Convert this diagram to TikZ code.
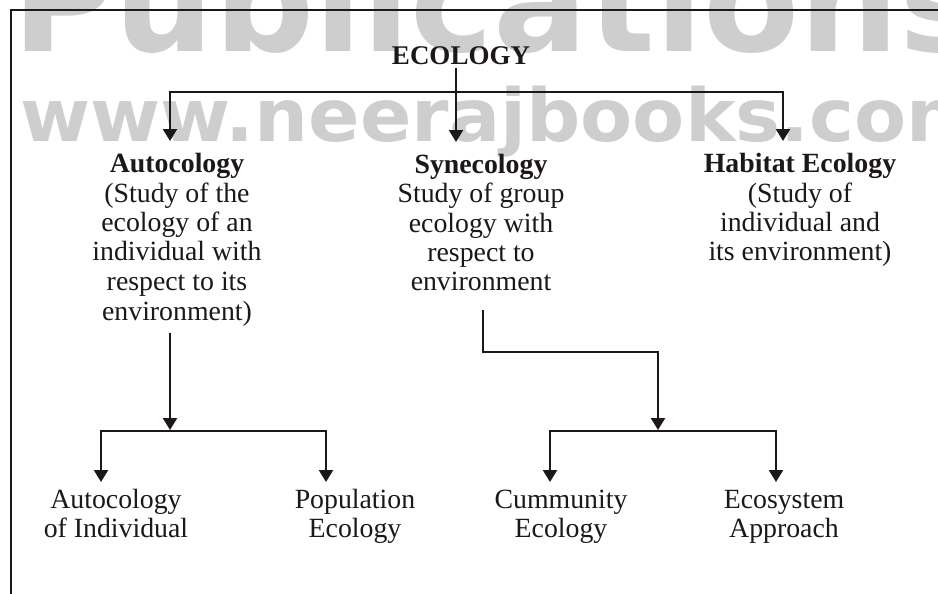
\documentclass[tikz,border=0pt]{standalone}
\usepackage{fontspec}
\setmainfont{Liberation Serif}
\newfontfamily\wmfont{DejaVu Sans}
\usetikzlibrary{arrows.meta}
\definecolor{wm}{RGB}{206,206,206}
\definecolor{ink}{RGB}{28,24,24}
\newcommand\blocktext[1]{\begin{tabular}[t]{@{}c@{}}#1\end{tabular}}
\begin{document}
\begin{tikzpicture}[x=1pt,y=-1pt,
  txt/.style={inner sep=0pt, anchor=base, text=ink, font=\fontsize{27.8}{29.5}\selectfont},
  line/.style={draw=ink, line width=2.3pt},
  arr/.style={line, -{Triangle[width=14pt,length=12pt]}},
  wmark/.style={inner sep=0pt, anchor=base west, text=wm}]
\useasboundingbox (0,0) rectangle (938,594);
\fill[white] (0,0) rectangle (938,594);
% watermark
\begin{scope}
\clip (0,0) rectangle (938,594);
\node[wmark, font=\wmfont\bfseries\fontsize{140}{140}\selectfont] (wmA) at (12,52) {Publications};
\node[wmark, font=\wmfont\bfseries\fontsize{73}{73}\selectfont, xscale=1.04] (wmB) at (20,142) {www.neerajbooks.com};
\end{scope}
% frame
\coordinate (frTR) at (938,10);
\coordinate (frTL) at (11,10);
\coordinate (frBL) at (11,594);
\draw[line] (frTR) -- (frTL) -- (frBL);
% texts
\node[txt, font=\fontsize{27}{29}\selectfont\bfseries] (eco) at (461,65) {ECOLOGY};
\node[txt] (auto) at (177,172.5) {\blocktext{\textbf{Autocology}\\(Study of the\\ecology of an\\individual with\\respect to its\\environment)}};
\node[txt] (syn) at (481,173) {\blocktext{\textbf{Synecology}\\Study of group\\ecology with\\respect to\\environment}};
\node[txt] (hab) at (800,172.5) {\blocktext{\textbf{Habitat Ecology}\\(Study of\\individual and\\its environment)}};
\node[txt] (aind) at (116,508) {\blocktext{Autocology\\of Individual}};
\node[txt] (pop) at (355,508) {\blocktext{Population\\Ecology}};
\node[txt] (com) at (561,508) {\blocktext{Cummunity\\Ecology}};
\node[txt] (eso) at (784,508) {\blocktext{Ecosystem\\Approach}};
% top level connectors
\coordinate (ecoStem) at (456,68);
\coordinate (tipSyn) at (456,142);
\coordinate (barL) at (170,92);
\coordinate (barR) at (783,92);
\coordinate (tipAuto) at (170,141);
\coordinate (tipHab) at (783,141);
\draw[arr] (barR) -- (barL) -- (tipAuto);
\draw[arr] (barL) -- (barR) -- (tipHab);
\draw[arr] (ecoStem) -- (tipSyn);
% autecology branch
\coordinate (aStem) at (170,333);
\coordinate (aJ) at (170,430);
\coordinate (aL) at (101,431);
\coordinate (aR) at (326,431);
\coordinate (aLt) at (101,482);
\coordinate (aRt) at (326,482);
\draw[arr] (aStem) -- (aJ);
\draw[arr] (aR) -- (aL) -- (aLt);
\draw[arr] (aL) -- (aR) -- (aRt);
% synecology branch
\coordinate (sStem) at (483,310);
\coordinate (sC1) at (483,352);
\coordinate (sC2) at (658,352);
\coordinate (sJ) at (658,430);
\coordinate (sL) at (550,431);
\coordinate (sR) at (776,431);
\coordinate (sLt) at (550,482);
\coordinate (sRt) at (776,482);
\draw[arr] (sStem) -- (sC1) -- (sC2) -- (sJ);
\draw[arr] (sR) -- (sL) -- (sLt);
\draw[arr] (sL) -- (sR) -- (sRt);
\end{tikzpicture}
\end{document}
